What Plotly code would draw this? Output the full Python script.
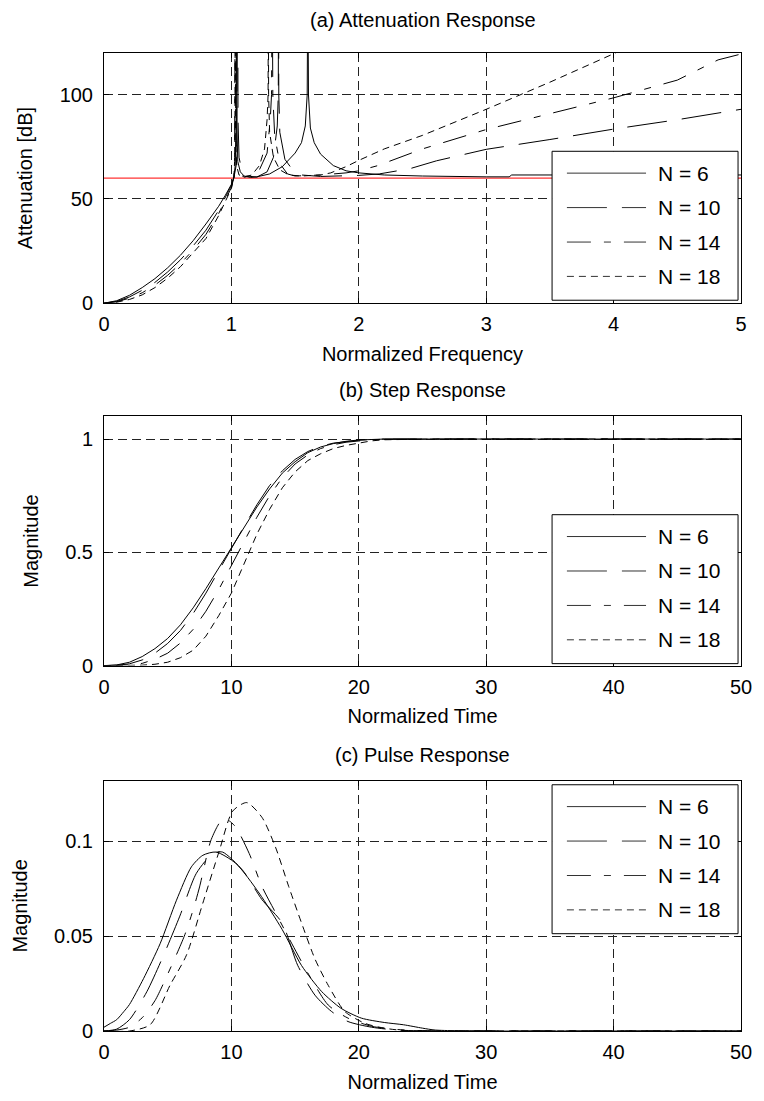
import plotly.graph_objects as go

W, H = 764, 1101
ML, MR, MT, MB = 104, 16, 53, 63
FONT = "Liberation Sans, Arial, sans-serif"

orders = [6, 10, 14, 18]
legend_labels = ["N = 6", "N = 10", "N = 14", "N = 18"]
line_dashes = ["solid", "40px,15px", "24px,13px,7px,13px", "7px,5px"]

panel_titles = ["(a) Attenuation Response", "(b) Step Response", "(c) Pulse Response"]
x_titles = ["Normalized Frequency", "Normalized Time", "Normalized Time"]
y_titles = ["Attenuation [dB]", "Magnitude", "Magnitude"]

# ---------- (a) attenuation ----------
att_freq_n6 = [0.0, 0.1, 0.2, 0.3, 0.4, 0.5, 0.6, 0.7, 0.8, 0.9, 0.95, 1.0, 1.02, 1.03, 1.037,
               1.04, 1.043, 1.05, 1.07, 1.1, 1.15, 1.2, 1.3, 1.4, 1.5, 1.55, 1.58, 1.595, 1.6, 1.605,
               1.62, 1.65, 1.7, 1.8, 1.9, 2.0, 2.2, 2.5, 3.0, 3.18, 3.2, 3.5, 4.0, 4.5, 5.0]
att_db_n6 = [0.0, 1.2, 3.8, 7.5, 11.8, 17.0, 23.0, 30.0, 38.0, 46.5, 51.5, 57.0, 60.5, 66.0, 85.0,
             160.0, 85.0, 68.0, 63.0, 61.0, 60.3, 60.6, 62.0, 65.5, 72.0, 77.0, 85.0, 100.0, 160.0, 100.0,
             84.0, 77.0, 71.5, 66.0, 63.5, 62.5, 61.5, 61.0, 60.6, 60.6, 61.5, 61.5, 61.5, 61.5, 61.5]

att_freq_n10 = [0.0, 0.1, 0.2, 0.3, 0.4, 0.5, 0.6, 0.7, 0.8, 0.9, 1.0, 1.02, 1.04, 1.048, 1.05,
                1.052, 1.06, 1.08, 1.12, 1.2, 1.28, 1.33, 1.36, 1.368, 1.37, 1.372, 1.38, 1.42, 1.48,
                1.55, 1.7, 1.9, 2.0, 2.16, 2.4, 2.61, 3.0, 3.5, 4.0, 4.5, 4.88, 5.0]
att_db_n10 = [0.0, 0.9, 3.0, 6.2, 10.0, 15.0, 20.8, 27.5, 35.0, 44.5, 56.5, 60.3, 67.0, 88.0, 160.0,
              88.0, 70.0, 64.0, 61.0, 60.5, 63.0, 70.0, 85.0, 100.0, 160.0, 100.0, 82.0, 69.0, 64.0,
              61.5, 60.8, 61.0, 61.3, 62.0, 64.5, 68.3, 73.8, 78.5, 83.5, 88.0, 92.0, 93.0]

att_freq_n14 = [0.0, 0.1, 0.2, 0.3, 0.4, 0.5, 0.6, 0.7, 0.8, 0.9, 1.0, 1.02, 1.025, 1.03, 1.035,
                1.045, 1.06, 1.1, 1.15, 1.22, 1.28, 1.305, 1.315, 1.32, 1.325, 1.34, 1.38, 1.44, 1.5,
                1.7, 1.9, 2.0, 2.15, 2.5, 3.0, 3.5, 4.0, 4.5, 4.82, 5.0]
att_db_n14 = [0.0, 0.7, 2.4, 5.0, 8.7, 13.4, 19.0, 25.5, 33.0, 43.0, 55.5, 60.5, 70.0, 160.0, 72.0,
              64.0, 62.0, 60.5, 61.0, 64.0, 72.0, 88.0, 100.0, 160.0, 100.0, 80.0, 67.0, 62.0, 61.0,
              61.5, 62.5, 63.5, 66.0, 74.0, 83.3, 91.0, 98.5, 107.0, 116.7, 119.5]

att_freq_n18 = [0.0, 0.1, 0.2, 0.3, 0.4, 0.5, 0.6, 0.7, 0.8, 0.9, 1.0, 1.02, 1.025, 1.028, 1.03,
                1.032, 1.04, 1.06, 1.1, 1.16, 1.22, 1.26, 1.28, 1.288, 1.29, 1.292, 1.3, 1.33, 1.38,
                1.45, 1.55, 1.7, 1.78, 1.9, 2.0, 2.2, 2.5, 3.0, 3.5, 4.0, 4.05]
att_db_n18 = [0.0, 0.5, 1.8, 4.0, 7.5, 12.0, 17.5, 24.0, 31.0, 42.0, 55.0, 60.5, 68.0, 85.0, 160.0,
              85.0, 66.0, 61.5, 60.5, 61.5, 66.0, 74.0, 88.0, 100.0, 160.0, 100.0, 82.0, 70.0, 64.0,
              61.5, 61.0, 61.5, 62.5, 65.5, 68.5, 74.0, 80.5, 93.0, 106.0, 119.5, 121.0]

spec_freq = [0.0, 5.0]
spec_db = [60.0, 60.0]

# ---------- (b) step ----------
step_time = [0, 1, 2, 3, 4, 5, 6, 7, 8, 9, 10, 11, 12, 13, 14, 15, 16, 17, 18, 19, 20, 21, 22,
             24, 26, 30, 40, 50]
step_n6 = [0.0, 0.003, 0.015, 0.04, 0.075, 0.12, 0.18, 0.255, 0.34, 0.43, 0.525, 0.615, 0.70,
           0.78, 0.85, 0.90, 0.94, 0.965, 0.98, 0.99, 0.996, 0.998, 1.0, 1.0, 1.0, 1.0, 1.0, 1.0]
step_n10 = [0.0, 0.001, 0.008, 0.025, 0.055, 0.098, 0.155, 0.23, 0.32, 0.42, 0.515, 0.615, 0.71,
            0.795, 0.86, 0.91, 0.945, 0.968, 0.982, 0.99, 0.995, 0.998, 1.0, 1.0, 1.0, 1.0, 1.0, 1.0]
step_n14 = [0.0, 0.0005, 0.003, 0.01, 0.028, 0.055, 0.1, 0.16, 0.24, 0.335, 0.44, 0.55, 0.655,
            0.75, 0.83, 0.89, 0.93, 0.958, 0.975, 0.986, 0.993, 0.997, 0.999, 1.0, 1.0, 1.0, 1.0, 1.0]
step_n18 = [0.0, 0.0, 0.0005, 0.002, 0.006, 0.015, 0.035, 0.068, 0.13, 0.22, 0.32, 0.45, 0.58,
            0.69, 0.785, 0.855, 0.905, 0.935, 0.958, 0.972, 0.983, 0.992, 0.997, 1.0, 1.0, 1.0, 1.0, 1.0]

# ---------- (c) pulse ----------
pulse_t_n6 = [0, 0.5, 1, 1.55, 2, 3.1, 4.4, 5.69, 6.86, 7.76, 8.8, 10.35, 12.17, 13.98, 15.5,
              17.1, 18.6, 20.2, 22, 23.5, 25, 26, 30, 40, 50]
pulse_v_n6 = [0.002, 0.004, 0.006, 0.0102, 0.014, 0.0276, 0.046, 0.069, 0.0866, 0.0927, 0.0944,
              0.0884, 0.0728, 0.0536, 0.0346, 0.0207, 0.012, 0.0068, 0.0045, 0.0033, 0.0015, 0.0005,
              0.0, 0.0, 0.0]
pulse_t_n10 = [0, 1, 2, 3.36, 4.66, 5.95, 7.25, 8.54, 9.3, 10.87, 12.4, 13.98, 15.2, 16.56, 17.86,
               19.15, 21, 23, 26, 30, 40, 50]
pulse_v_n10 = [0.0, 0.001, 0.006, 0.0207, 0.0397, 0.0606, 0.0832, 0.0936, 0.0944, 0.0849, 0.0693,
               0.057, 0.0347, 0.0189, 0.0103, 0.005, 0.002, 0.0005, 0.0, 0.0, 0.0, 0.0]
pulse_t_n14 = [0, 1, 2, 3, 4, 5, 6.3, 7.0, 7.5, 8.36, 8.9, 9.3, 9.8, 10.35, 11.4, 12.4, 13.46,
               14.75, 16.05, 17.6, 19.15, 21, 23, 26, 30, 40, 50]
pulse_v_n14 = [0.0, 0.0005, 0.002, 0.007, 0.016, 0.03, 0.05, 0.064, 0.076, 0.1, 0.108, 0.1118,
               0.111, 0.1075, 0.0936, 0.0762, 0.0625, 0.046, 0.03, 0.0137, 0.0068, 0.0025, 0.0008,
               0.0, 0.0, 0.0, 0.0]
pulse_t_n18 = [0, 2, 3.62, 5.18, 6.47, 7.76, 9.06, 10.1, 11.2, 12.4, 13.46, 14.5, 15.5, 16.56,
               17.6, 18.9, 20.5, 22, 24, 30, 40, 50]
pulse_v_n18 = [0.0, 0.0, 0.0033, 0.0241, 0.04, 0.0675, 0.0953, 0.116, 0.1205, 0.1127, 0.097,
               0.0762, 0.0571, 0.038, 0.0241, 0.0103, 0.004, 0.0015, 0.0, 0.0, 0.0, 0.0]

# axis settings (values)
att_xrange, att_yrange = [0, 5], [0, 120]
att_xticks, att_yticks = [0, 1, 2, 3, 4, 5], [0, 50, 100]
time_xrange, time_xticks = [0, 50], [0, 10, 20, 30, 40, 50]
step_yrange, step_yticks, step_ytext = [0, 1.1], [0, 0.5, 1], ["0", "0.5", "1"]
pulse_yrange, pulse_yticks, pulse_ytext = [0, 0.132], [0, 0.05, 0.1], ["0", "0.05", "0.1"]

att_series = [(att_freq_n6, att_db_n6), (att_freq_n10, att_db_n10),
              (att_freq_n14, att_db_n14), (att_freq_n18, att_db_n18)]
step_series = [(step_time, step_n6), (step_time, step_n10), (step_time, step_n14), (step_time, step_n18)]
pulse_series = [(pulse_t_n6, pulse_v_n6), (pulse_t_n10, pulse_v_n10),
                (pulse_t_n14, pulse_v_n14), (pulse_t_n18, pulse_v_n18)]

fig = go.Figure()

fig.add_trace(go.Scatter(x=spec_freq, y=spec_db, mode="lines", xaxis="x", yaxis="y",
                         line=dict(color="red", width=1), showlegend=False, hoverinfo="skip"))

for (ax, ay), series, shape in zip([("x", "y"), ("x2", "y2"), ("x3", "y3")],
                                   [att_series, step_series, pulse_series],
                                   ["linear", "linear", "spline"]):
    for (xs, ys), lab, dash in zip(series, legend_labels, line_dashes):
        ln = dict(color="black", width=1, dash=dash, shape=shape)
        if shape == "spline":
            ln["smoothing"] = 0.7
        fig.add_trace(go.Scatter(x=xs, y=ys, mode="lines", xaxis=ax, yaxis=ay, name=lab,
                                 line=ln, showlegend=False))

PW = W - ML - MR
PH = H - MT - MB


def px_x(px):
    return (px - ML) / PW


def px_y(py):
    return 1 - (py - MT) / PH


tickfont = dict(family=FONT, size=20, color="black")
titlefont = dict(family=FONT, size=20, color="black")


def axis_common():
    return dict(showline=True, linecolor="black", linewidth=1, mirror="ticks",
                ticks="inside", ticklen=5, tickcolor="black", showgrid=True,
                gridcolor="#222222", griddash="9px,5px", gridwidth=1, zeroline=False,
                tickfont=tickfont)


# panel pixel boxes (top, bottom)
panels = [(53, 305), (419, 670), (786, 1038)]
ydoms = [[px_y(b), px_y(t)] for t, b in panels]

layout = dict(width=W, height=H, margin=dict(l=ML, r=MR, t=MT, b=MB),
              paper_bgcolor="white", plot_bgcolor="white", showlegend=False,
              font=dict(family=FONT, color="black"))

xcfg = [(att_xrange, att_xticks, [str(v) for v in att_xticks]),
        (time_xrange, time_xticks, [str(v) for v in time_xticks]),
        (time_xrange, time_xticks, [str(v) for v in time_xticks])]
ycfg = [(att_yrange, att_yticks, [str(v) for v in att_yticks]),
        (step_yrange, step_yticks, step_ytext),
        (pulse_yrange, pulse_yticks, pulse_ytext)]

for i in range(3):
    sfx = "" if i == 0 else str(i + 1)
    xr, xt, xtt = xcfg[i]
    yr, yt, ytt = ycfg[i]
    xa = axis_common()
    xa.update(domain=[0, 1], anchor="y" + sfx, range=xr, tickvals=xt, ticktext=xtt,
              ticklabelstandoff=3,
              title=dict(text=x_titles[i], font=titlefont, standoff=12))
    ya = axis_common()
    ya.update(domain=ydoms[i], anchor="x" + sfx, range=yr, tickvals=yt, ticktext=ytt,
              ticklabelstandoff=6,
              title=dict(text=y_titles[i], font=titlefont, standoff=21))
    layout["xaxis" + sfx] = xa
    layout["yaxis" + sfx] = ya

annotations = []
title_y = [20, 392, 760]
for i in range(3):
    annotations.append(dict(text=panel_titles[i], xref="paper", yref="paper",
                            x=px_x(426), y=px_y(title_y[i]), xanchor="center", yanchor="middle",
                            showarrow=False, font=dict(family=FONT, size=20, color="black")))

shapes = []
legend_tops = [152, 518, 790]
row_offsets = [22, 56.7, 91.4, 126]
for top in legend_tops:
    shapes.append(dict(type="rect", xref="paper", yref="paper", layer="above",
                       x0=px_x(557), x1=px_x(745), y0=px_y(top + 150), y1=px_y(top),
                       line=dict(color="black", width=1), fillcolor="white"))
    for lab, dash, off in zip(legend_labels, line_dashes, row_offsets):
        yy = px_y(top + off)
        shapes.append(dict(type="line", xref="paper", yref="paper", layer="above",
                           x0=px_x(572), x1=px_x(652), y0=yy, y1=yy,
                           line=dict(color="#333333", width=1, dash=dash)))
        annotations.append(dict(text=lab, xref="paper", yref="paper", x=px_x(662), y=yy,
                                xanchor="left", yanchor="middle", showarrow=False,
                                font=dict(family=FONT, size=21, color="black")))

layout["annotations"] = annotations
layout["shapes"] = shapes
fig.update_layout(**layout)

fig.write_html("out.html", config={"displayModeBar": False},
               post_script="document.body.style.margin='0px';")
